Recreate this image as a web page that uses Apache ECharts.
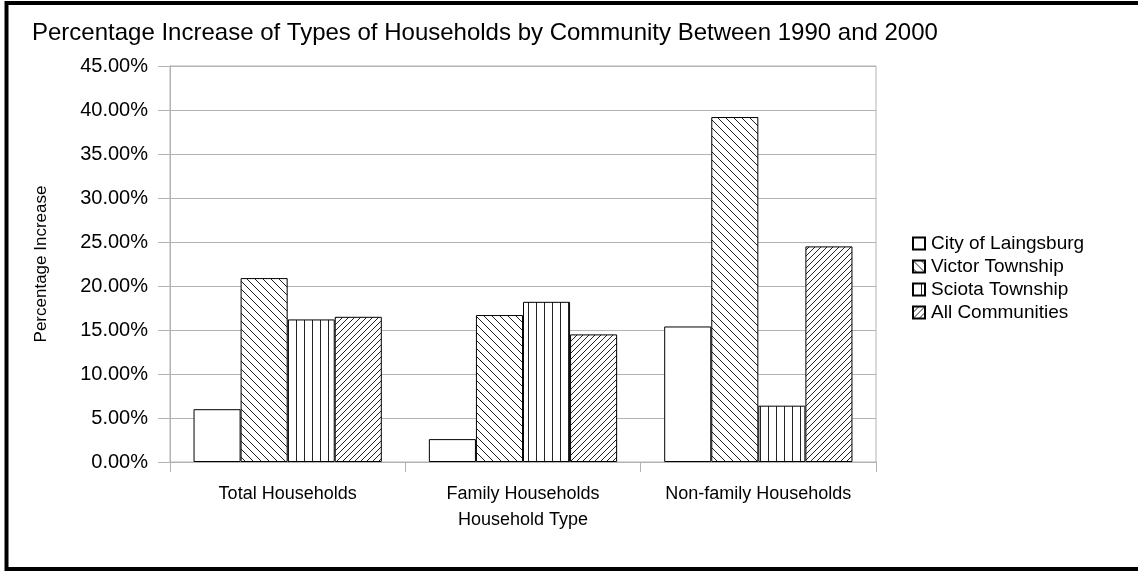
<!DOCTYPE html>
<html>
<head>
<meta charset="utf-8">
<script src="https://cdn.jsdelivr.net/npm/echarts@6/dist/echarts.min.js"></script>
<style>
html,body{margin:0;padding:0;background:#fff;}
#chart{width:1138px;height:571px;}
</style>
</head>
<body>
<div id="chart"></div>
<script>
const categories = ['Total Households', 'Family Households', 'Non-family Households'];
const seriesNames = ['City of Laingsburg', 'Victor Township', 'Sciota Township', 'All Communities'];
const cityOfLaingsburg = [6.0, 2.6, 15.4];
const victorTownship = [20.9, 16.7, 39.2];
const sciotaTownship = [16.2, 18.2, 6.4];
const allCommunities = [16.5, 14.5, 24.5];
const yTicks = [0, 5, 10, 15, 20, 25, 30, 35, 40, 45];

function makePattern(type, size) {
  const c = document.createElement('canvas');
  c.width = size; c.height = size;
  const ctx = c.getContext('2d');
  ctx.fillStyle = '#fff';
  ctx.fillRect(0, 0, size, size);
  if (type === 'none') return c;
  ctx.strokeStyle = '#222';
  ctx.lineWidth = 1;
  ctx.beginPath();
  if (type === 'vertical') {
    ctx.moveTo(0.5, 0); ctx.lineTo(0.5, size);
  } else if (type === 'back') {
    for (let k = -1; k <= 1; k++) {
      ctx.moveTo(k * size, 0); ctx.lineTo(k * size + size, size);
    }
  } else if (type === 'fwd') {
    for (let k = -1; k <= 1; k++) {
      ctx.moveTo(k * size, size); ctx.lineTo(k * size + size, 0);
    }
  }
  ctx.stroke();
  return c;
}

const fills = [
  '#ffffff',
  { image: makePattern('back', 8), repeat: 'repeat' },
  { image: makePattern('vertical', 8), repeat: 'repeat' },
  { image: makePattern('fwd', 6), repeat: 'repeat' }
];
const dataSets = [cityOfLaingsburg, victorTownship, sciotaTownship, allCommunities];
const FONT = '"Liberation Sans", Arial, sans-serif';

const chart = echarts.init(document.getElementById('chart'), null, { renderer: 'canvas' });
chart.setOption({
  backgroundColor: '#fff',
  animation: false,
  title: {
    text: 'Percentage Increase of Types of Households by Community Between 1990 and 2000',
    left: 27, top: 16,
    textStyle: { fontFamily: FONT, fontSize: 24, fontWeight: 'normal', color: '#000' }
  },
  graphic: [{
    type: 'rect', silent: true,
    shape: { x: 6.5, y: 3, width: 1150, height: 566 },
    style: { fill: 'none', stroke: '#000', lineWidth: 4 }
  }],
  legend: {
    orient: 'vertical',
    left: 912, top: 234, padding: 0,
    itemWidth: 12, itemHeight: 12, itemGap: 4,
    icon: 'rect',
    textStyle: { fontFamily: FONT, fontSize: 19, color: '#000', padding: [0, 0, 0, 1] },
    data: seriesNames
  },
  grid: {
    left: 170, right: 262, top: 66, bottom: 109,
    show: true, borderColor: '#b3b3b3', borderWidth: 1, containLabel: false
  },
  xAxis: {
    type: 'category',
    data: categories,
    name: 'Household Type',
    nameLocation: 'middle',
    nameGap: 49,
    nameTextStyle: { fontFamily: FONT, fontSize: 18, color: '#000' },
    axisLine: { lineStyle: { color: '#b3b3b3' } },
    axisTick: { show: true, length: 10, lineStyle: { color: '#b3b3b3' } },
    axisLabel: { interval: 0, fontFamily: FONT, fontSize: 18, color: '#000', margin: 23 }
  },
  yAxis: {
    type: 'value',
    min: yTicks[0], max: yTicks[yTicks.length - 1], interval: 5,
    name: 'Percentage Increase',
    nameLocation: 'middle',
    nameRotate: 90,
    nameGap: 120,
    nameTextStyle: { fontFamily: FONT, fontSize: 17, color: '#000' },
    axisLine: { show: true, lineStyle: { color: '#b3b3b3' } },
    axisTick: { show: true, length: 12, lineStyle: { color: '#b3b3b3' } },
    splitLine: { lineStyle: { color: '#b3b3b3' } },
    axisLabel: {
      fontFamily: FONT, fontSize: 20, color: '#000', margin: 22,
      formatter: v => v.toFixed(2) + '%'
    }
  },
  series: seriesNames.map((name, i) => ({
    name: name,
    type: 'bar',
    data: dataSets[i],
    barGap: '0%',
    barCategoryGap: '20%',
    itemStyle: { color: fills[i], borderColor: '#000', borderWidth: 1 }
  }))
});
</script>
</body>
</html>
